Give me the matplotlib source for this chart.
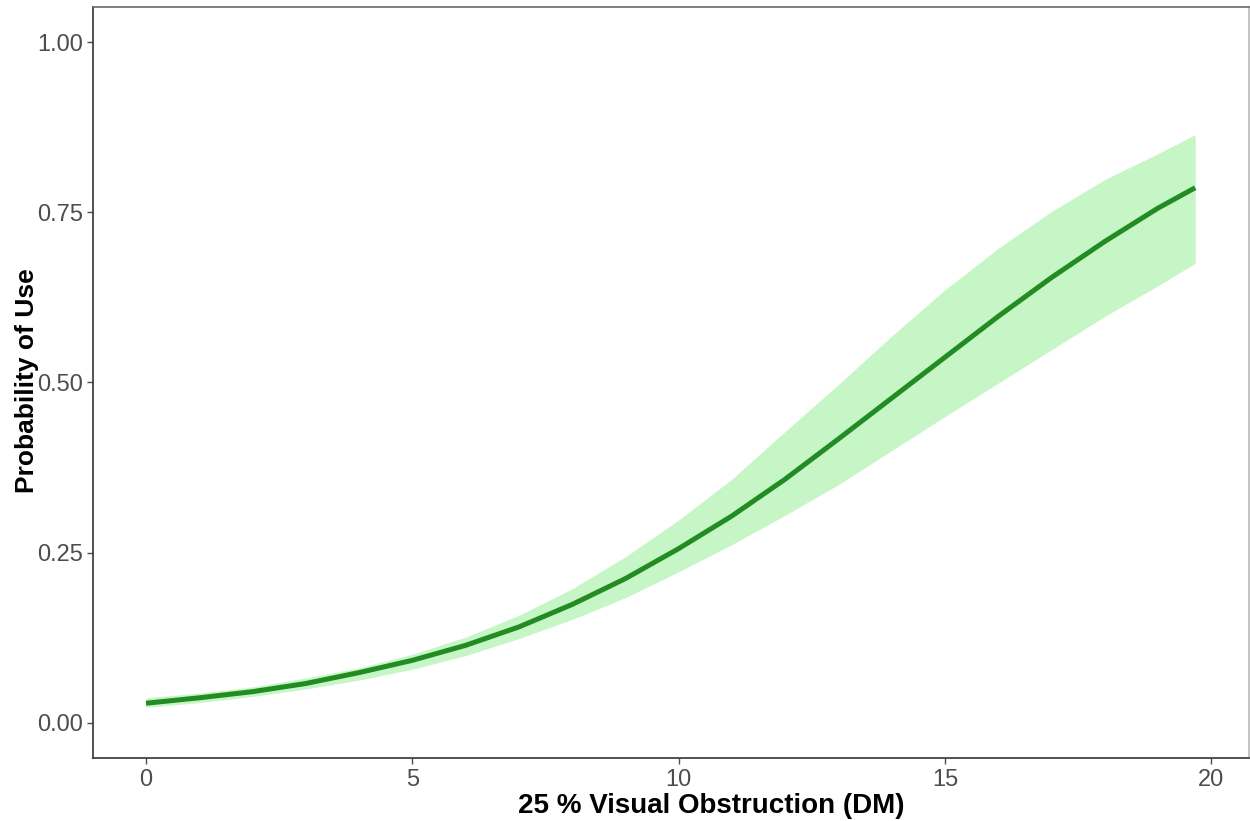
import matplotlib
matplotlib.use("Agg")
import matplotlib.pyplot as plt

# Predicted probability of use with 95% confidence band
obstruction = [0, 1, 2, 3, 4, 5, 6, 7, 8, 9, 10, 11, 12, 13, 14, 15, 16, 17, 18, 19, 19.7]
prob = [0.029, 0.037, 0.046, 0.058, 0.074, 0.092, 0.114, 0.141, 0.174, 0.212, 0.256,
        0.304, 0.358, 0.417, 0.477, 0.537, 0.597, 0.654, 0.707, 0.756, 0.786]
upper = [0.037, 0.044, 0.053, 0.066, 0.081, 0.101, 0.126, 0.158, 0.197, 0.244, 0.298,
         0.358, 0.428, 0.497, 0.568, 0.636, 0.697, 0.751, 0.798, 0.836, 0.864]
lower = [0.023, 0.030, 0.039, 0.050, 0.063, 0.079, 0.099, 0.124, 0.152, 0.184, 0.222,
         0.262, 0.305, 0.350, 0.400, 0.450, 0.499, 0.548, 0.597, 0.642, 0.675]

x_ticks = [0, 5, 10, 15, 20]
y_ticks = [0.00, 0.25, 0.50, 0.75, 1.00]
y_tick_labels = ["0.00", "0.25", "0.50", "0.75", "1.00"]

plt.rcParams["font.family"] = ["Liberation Sans", "DejaVu Sans"]

fig = plt.figure(figsize=(12.5, 8.21), dpi=100)
ax = fig.add_axes([93 / 1250, 63 / 821, 1156 / 1250, 751 / 821])

ax.fill_between(obstruction, lower, upper, color="#c6f6c6", linewidth=0, zorder=1)
ax.plot(obstruction, prob, color="#228b22", linewidth=3.6, solid_capstyle="butt",
        solid_joinstyle="round", zorder=2)

ax.set_xlim(-0.995, 20.71)
ax.set_ylim(-0.0514, 1.0514)
ax.set_xticks(x_ticks)
ax.set_yticks(y_ticks)
ax.set_yticklabels(y_tick_labels)

ax.tick_params(axis="both", colors="#4d4d4d", labelsize=17, length=4, width=1.0,
               labelcolor="#4d4d4d")
ax.tick_params(axis="x", pad=4)
ax.tick_params(axis="y", pad=3)

for side in ["left", "bottom"]:
    ax.spines[side].set_color("#333333")
    ax.spines[side].set_linewidth(1.2)
ax.spines["top"].set_color("#6a6a6a")
ax.spines["top"].set_linewidth(1.2)
ax.spines["right"].set_color("#b8b8b8")
ax.spines["right"].set_linewidth(1.2)

ax.set_xlabel("25 % Visual Obstruction (DM)", fontsize=20, fontweight="bold",
              color="black", labelpad=2)
ax.xaxis.set_label_coords(0.535, -0.047)
ax.set_ylabel("Probability of Use", fontsize=19, fontweight="bold",
              color="black", labelpad=-1)
ax.yaxis.label.set_y(0.503)

fig.savefig("out.png", dpi=100, facecolor="white")
